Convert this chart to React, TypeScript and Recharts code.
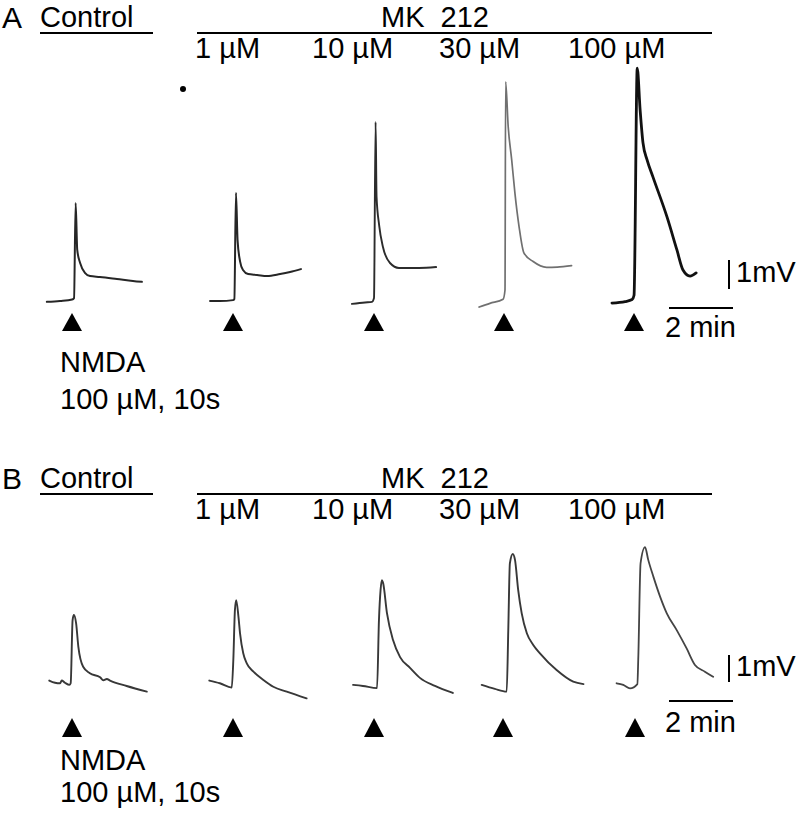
import React from "react";
import {
  ComposedChart,
  Line,
  Scatter,
  XAxis,
  YAxis,
  ReferenceLine,
} from "recharts";

// [min after NMDA onset, mV above pre-stimulus baseline]
type Pt = [number, number];

const CONDITIONS = ["Control", "1 µM", "10 µM", "30 µM", "100 µM"];
const DRUG = "MK  212";
const STIMULUS = ["NMDA", "100 µM, 10s"];
const SCALE_MV = 1;
const SCALE_MIN = 2;

// ---- panel A traces ----
const A_CONTROL: Pt[] = [
  [-0.88, -0.03], [-0.47, 0], [-0.09, 0.05], [-0.03, 0.1], [0.02, 3.38],
  [0.07, 1.76], [0.16, 1.31], [0.31, 0.97], [0.47, 0.86], [0.78, 0.83],
  [1.31, 0.76], [1.81, 0.69], [2.09, 0.66],
];
const A_1UM: Pt[] = [
  [-0.78, 0], [-0.47, 0], [-0.06, 0.03], [-0.02, 0.07], [0.03, 3.73],
  [0.08, 2.1], [0.16, 1.36], [0.25, 1.07], [0.41, 0.93], [0.69, 0.9],
  [1.0, 0.86], [1.41, 0.93], [1.72, 1.0], [2.06, 1.1],
];
const A_10UM: Pt[] = [
  [-0.69, -0.1], [-0.28, -0.05], [-0.06, -0.03], [0, 0.1], [0.05, 6.17],
  [0.08, 3.59], [0.16, 2.62], [0.28, 1.86], [0.5, 1.31], [0.78, 1.14],
  [1.41, 1.14], [1.94, 1.17],
];
const A_30UM: Pt[] = [
  [-0.81, -0.21], [-0.47, -0.08], [-0.06, 0.06], [0, 0.38], [0.02, 7.56],
  [0.1, 6.01], [0.21, 4.86], [0.31, 3.72], [0.44, 2.56], [0.59, 1.66],
  [0.88, 1.36], [1.3, 1.16], [1.63, 1.17], [2.08, 1.22],
];
const A_100UM: Pt[] = [
  [-0.72, -0.07], [-0.31, -0.02], [-0.09, 0.05], [-0.03, 0.2], [0.07, 8.03],
  [0.16, 6.59], [0.25, 5.45], [0.38, 4.86], [0.56, 4.28], [1.0, 2.9],
  [1.31, 1.76], [1.5, 1.07], [1.72, 0.86], [1.91, 0.97],
];

// ---- panel B traces ----
const B_CONTROL: Pt[] = [
  [-0.68, 0.09], [-0.5, 0.01], [-0.34, -0.01], [-0.29, 0.09], [-0.19, 0.01],
  [-0.05, -0.07], [-0.01, -0.01], [0.05, 2.33], [0.09, 2.52], [0.16, 2.21],
  [0.23, 1.34], [0.38, 0.6], [0.59, 0.36], [0.91, 0.21], [1.01, 0.1],
  [1.12, 0.15], [1.22, 0.09], [1.74, -0.11], [2.37, -0.32],
];
const B_1UM: Pt[] = [
  [-0.74, 0.09], [-0.41, -0.01], [-0.04, -0.17], [0.01, 0.85], [0.06, 2.7],
  [0.1, 3.07], [0.17, 2.46], [0.22, 1.84], [0.32, 1.1], [0.43, 0.73],
  [0.64, 0.42], [0.95, 0.11], [1.26, -0.14], [1.68, -0.32], [2.3, -0.57],
];
const B_10UM: Pt[] = [
  [-0.78, -0.07], [-0.47, -0.11], [-0.03, -0.19], [0.03, 2.33], [0.08, 3.44],
  [0.12, 3.81], [0.16, 3.7], [0.28, 2.59], [0.47, 1.59], [0.69, 0.96],
  [1.0, 0.56], [1.31, 0.19], [1.78, -0.11], [2.34, -0.37],
];
const B_30UM: Pt[] = [
  [-0.79, -0.07], [-0.38, -0.22], [-0.01, -0.32], [0.04, 1.96], [0.09, 4.43],
  [0.18, 4.78], [0.25, 4.56], [0.35, 3.44], [0.46, 2.58], [0.62, 1.84],
  [0.82, 1.41], [1.03, 1.1], [1.55, 0.48], [2.07, 0.05], [2.39, -0.04],
];
const B_100UM: Pt[] = [
  [-0.67, -0.01], [-0.46, -0.07], [-0.25, -0.2], [-0.02, -0.04], [0.01, 0.97],
  [0.08, 4.43], [0.22, 5.03], [0.32, 4.56], [0.48, 3.94], [0.69, 3.2],
  [0.9, 2.58], [1.21, 1.96], [1.52, 1.28], [1.78, 0.67], [2.09, 0.42],
  [2.35, 0.23],
];

// ---- layout ----
const W = 800;
const PX_PER_MIN = 32;
const FONT = '"Liberation Sans", Arial, Helvetica, sans-serif';
const FONT_SIZE = 29;
const LABEL_X = [195, 312, 439, 568];

type PanelLayout = {
  letter: string;
  traces: Pt[][];
  top: number;
  height: number;
  basePx: number;
  pxPerMv: number;
  onsetPx: number[];
  arrowPx: number[];
  arrowTip: number;
  arrowBase: number;
  strokes: string[];
  widths: number[];
  vBarX: number;
  vBarMv: number;
  hBarX: number;
  hBarMv: number;
  dy: number; // header offset
  stimBase: [number, number];
  mvBase: number;
  minBase: number;
};

const PANELS: PanelLayout[] = [
  {
    letter: "A",
    traces: [A_CONTROL, A_1UM, A_10UM, A_30UM, A_100UM],
    top: 0,
    height: 420,
    basePx: 301,
    pxPerMv: 29,
    onsetPx: [75, 235, 374, 505, 635],
    arrowPx: [72, 233, 374, 504, 634],
    arrowTip: 12,
    arrowBase: 30,
    strokes: ["#262626", "#262626", "#2c2c2c", "#707070", "#111"],
    widths: [2, 2, 1.9, 1.7, 2.8],
    vBarX: 729,
    vBarMv: 0.41,
    hBarX: 669,
    hBarMv: -0.24,
    dy: 0,
    stimBase: [373, 410],
    mvBase: 283,
    minBase: 338,
  },
  {
    letter: "B",
    traces: [B_CONTROL, B_1UM, B_10UM, B_30UM, B_100UM],
    top: 440,
    height: 374,
    basePx: 683,
    pxPerMv: 27,
    onsetPx: [71, 233, 378, 507, 638],
    arrowPx: [72, 233, 374, 503, 635],
    arrowTip: 35,
    arrowBase: 54,
    strokes: ["#383838", "#383838", "#383838", "#383838", "#444"],
    widths: [1.9, 1.9, 1.9, 1.9, 1.8],
    vBarX: 729,
    vBarMv: 0.04,
    hBarX: 669,
    hBarMv: -0.67,
    dy: 461,
    stimBase: [771, 803],
    mvBase: 677,
    minBase: 733,
  },
];

function Txt({
  x,
  base,
  size = FONT_SIZE,
  children,
}: {
  x: number;
  base: number;
  size?: number;
  children: React.ReactNode;
}) {
  return (
    <div
      style={{
        position: "absolute",
        left: x,
        top: base - 0.8465 * size,
        fontSize: size,
        lineHeight: 1,
        whiteSpace: "pre",
        fontFamily: FONT,
        color: "#000",
      }}
    >
      {children}
    </div>
  );
}

function Rule({ x, y, w }: { x: number; y: number; w: number }) {
  return (
    <div
      style={{
        position: "absolute",
        left: x,
        top: y,
        width: w,
        height: 2,
        background: "#000",
      }}
    />
  );
}

function Panel({ p }: { p: PanelLayout }) {
  const vMax = (p.basePx - p.top) / p.pxPerMv;
  const vMin = vMax - p.height / p.pxPerMv;
  const arrows = p.arrowPx.map((px) => ({ x: px / PX_PER_MIN, y: 0 }));

  const Triangle = (props: any) => {
    const { cx, cy } = props;
    return (
      <polygon
        points={`${cx},${cy + p.arrowTip} ${cx - 10},${cy + p.arrowBase} ${cx + 10},${cy + p.arrowBase}`}
        fill="#000"
      />
    );
  };

  return (
    <>
      <div style={{ position: "absolute", left: 0, top: p.top }}>
        <ComposedChart
          width={W}
          height={p.height}
          margin={{ top: 0, right: 0, bottom: 0, left: 0 }}
        >
          <XAxis
            type="number"
            dataKey="x"
            domain={[0, W / PX_PER_MIN]}
            allowDataOverflow
            hide
          />
          <YAxis
            type="number"
            dataKey="y"
            domain={[vMin, vMax]}
            allowDataOverflow
            hide
          />
          {p.traces.map((tr, i) => (
            <Line
              key={CONDITIONS[i]}
              name={CONDITIONS[i]}
              data={tr.map(([t, v]) => ({ x: p.onsetPx[i] / PX_PER_MIN + t, y: v }))}
              dataKey="y"
              type="monotone"
              stroke={p.strokes[i]}
              strokeWidth={p.widths[i]}
              strokeLinejoin="round"
              strokeLinecap="round"
              dot={false}
              activeDot={false}
              isAnimationActive={false}
            />
          ))}
          <Scatter
            data={arrows}
            dataKey="y"
            shape={Triangle}
            isAnimationActive={false}
          />
          <ReferenceLine
            segment={[
              { x: p.vBarX / PX_PER_MIN, y: p.vBarMv },
              { x: p.vBarX / PX_PER_MIN, y: p.vBarMv + SCALE_MV },
            ]}
            stroke="#000"
            strokeWidth={2}
            ifOverflow="visible"
          />
          <ReferenceLine
            segment={[
              { x: p.hBarX / PX_PER_MIN, y: p.hBarMv },
              { x: p.hBarX / PX_PER_MIN + SCALE_MIN, y: p.hBarMv },
            ]}
            stroke="#000"
            strokeWidth={2}
            ifOverflow="visible"
          />
        </ComposedChart>
      </div>

      <Txt x={2} base={28 + p.dy} size={30}>
        {p.letter}
      </Txt>
      <Txt x={40} base={28 + p.dy}>
        {CONDITIONS[0]}
      </Txt>
      <Rule x={40} y={32 + p.dy} w={113} />
      <Txt x={381} base={28 + p.dy}>
        {DRUG}
      </Txt>
      <Rule x={197} y={32 + p.dy} w={515} />
      {CONDITIONS.slice(1).map((c, i) => (
        <Txt key={c} x={LABEL_X[i]} base={59 + p.dy}>
          {c}
        </Txt>
      ))}
      <Txt x={60} base={p.stimBase[0]}>
        {STIMULUS[0]}
      </Txt>
      <Txt x={60} base={p.stimBase[1]}>
        {STIMULUS[1]}
      </Txt>
      <Txt x={736} base={p.mvBase}>
        {`${SCALE_MV}mV`}
      </Txt>
      <Txt x={665} base={p.minBase}>
        {`${SCALE_MIN} min`}
      </Txt>
    </>
  );
}

export default function App() {
  return (
    <div
      style={{
        position: "absolute",
        left: 0,
        top: 0,
        width: W,
        height: 814,
        background: "#fff",
        overflow: "hidden",
      }}
    >
      {PANELS.map((p) => (
        <Panel key={p.letter} p={p} />
      ))}
      <div
        style={{
          position: "absolute",
          left: 180,
          top: 86,
          width: 6,
          height: 6,
          borderRadius: 3,
          background: "#000",
        }}
      />
    </div>
  );
}
